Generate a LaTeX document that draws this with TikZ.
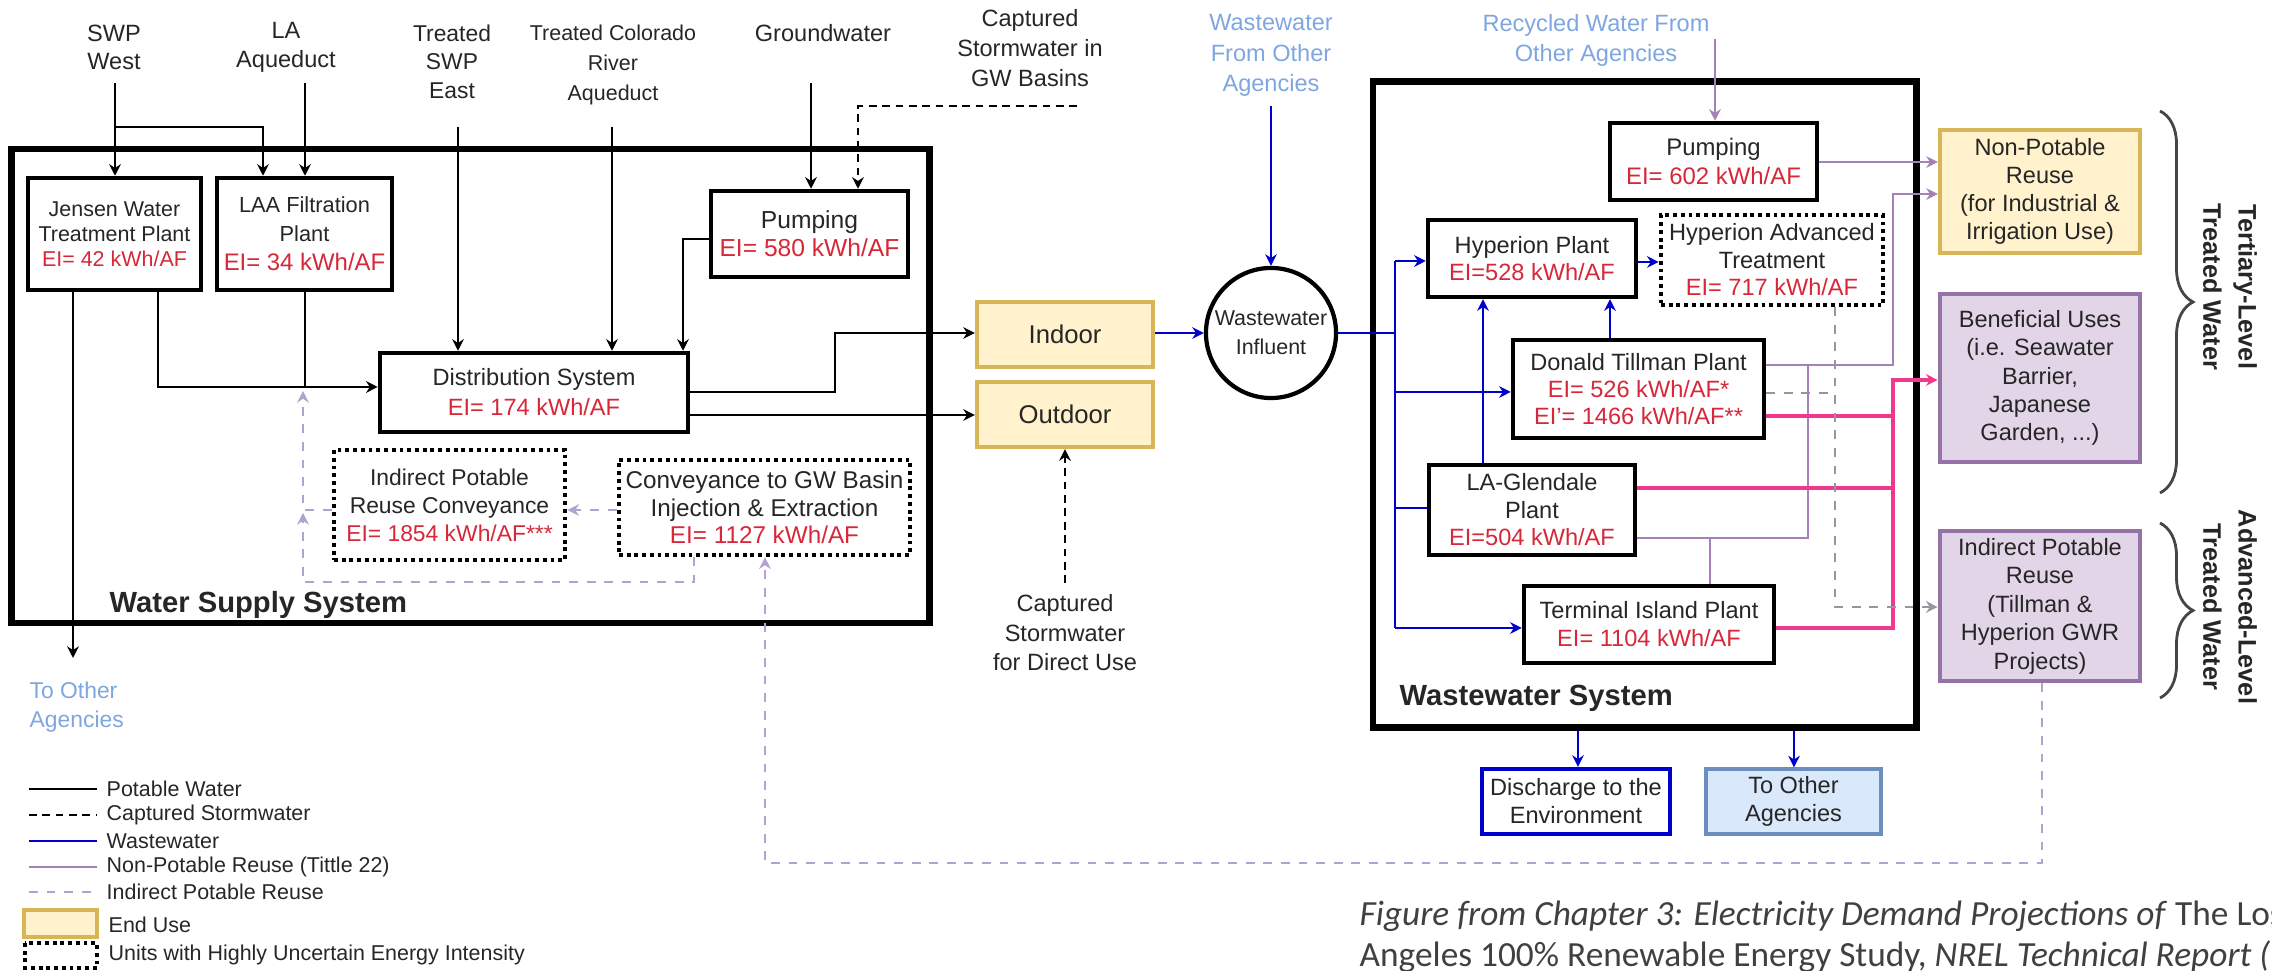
\documentclass[tikz,border=0pt]{standalone}
\usepackage{fontspec}
\setmainfont{Liberation Sans}
\newfontfamily\capfont{Carlito}
\usetikzlibrary{arrows.meta,decorations.pathreplacing}

\definecolor{txt}{RGB}{38,38,38}
\definecolor{eired}{RGB}{214,40,57}
\definecolor{wwblue}{RGB}{0,0,205}
\definecolor{ltblue}{RGB}{126,166,224}
\definecolor{npurple}{RGB}{166,128,184}
\definecolor{ipurple}{RGB}{178,162,208}
\definecolor{ggray}{RGB}{150,150,160}
\definecolor{pinkl}{RGB}{240,56,140}
\definecolor{endfill}{RGB}{255,242,204}
\definecolor{enddraw}{RGB}{214,182,86}
\definecolor{benfill}{RGB}{225,213,231}
\definecolor{bendraw}{RGB}{150,115,166}
\definecolor{toafill}{RGB}{218,232,252}
\definecolor{toadraw}{RGB}{108,142,191}
\definecolor{capgray}{RGB}{64,64,64}
\definecolor{bracegray}{RGB}{70,70,70}

\newcommand{\ei}[1]{\textcolor{eired}{#1}}

\begin{document}
\begin{tikzpicture}[x=0.01cm,y=-0.01cm,
  every node/.style={text=txt},
  lbl/.style={align=center,inner sep=0pt,font=\fontsize{6.7}{8.1}\selectfont},
  box/.style={lbl,draw=black,line width=1.25pt,fill=white},
  ubox/.style={lbl,draw=black,line width=1.3pt,dash pattern=on 1.1pt off 1.1pt,fill=white},
  enduse/.style={lbl,draw=enddraw,fill=endfill,line width=1.2pt},
  reuse/.style={lbl,draw=bendraw,fill=benfill,line width=1.3pt},
  sysbox/.style={draw=black,line width=1.9pt,inner sep=0pt},
  arr/.style={-{Stealth[length=3.3pt,width=3.3pt]}},
  lpot/.style={black,line width=0.75pt},
  lstorm/.style={black,line width=0.75pt,dash pattern=on 2.2pt off 1.6pt},
  lwaste/.style={wwblue,line width=0.8pt},
  lnpr/.style={npurple,line width=0.7pt},
  lpink/.style={pinkl,line width=1pt},
  lipr/.style={ipurple,line width=0.7pt,dash pattern=on 2.5pt off 2.5pt},
  lgray/.style={ggray,line width=0.7pt,dash pattern=on 2.5pt off 2.5pt},
  legtxt/.style={anchor=west,inner sep=0pt,font=\fontsize{6.1}{7}\selectfont},
  sysname/.style={anchor=west,inner sep=0pt,font=\bfseries\fontsize{8.3}{9}\selectfont},
  sidename/.style={align=center,inner sep=0pt,rotate=-90,font=\bfseries\fontsize{7.2}{10}\selectfont},
  bracestyle/.style={bracegray,line width=0.8pt,decorate,decoration={brace,amplitude=0.33cm,aspect=0.5}},
]
\useasboundingbox (0,0) rectangle (2272,971);
\clip (0,0) rectangle (2272,971);

% ---------- system frames ----------
\node[sysbox,minimum width=9.17cm,minimum height=4.74cm] (wss) at (470.5,386) {};
\node[sysbox,minimum width=5.43cm,minimum height=6.45cm] (wws) at (1644.5,404.5) {};
\node[sysname] (wsst) at (109,605) {Water Supply System};
\node[sysname] (wwst) at (1399,698) {Wastewater System};

% ---------- source labels ----------
\node[lbl] (swpw) at (114,47.5) {SWP\\West};
\node[lbl] (laq) at (286,47.5) {LA\\Aqueduct};
\node[lbl,font=\fontsize{6.5}{8.1}\selectfont] (tswp) at (452,61.5) {Treated\\SWP\\East};
\node[lbl,font=\fontsize{6.1}{8.5}\selectfont] (tcra) at (613,65) {Treated Colorado\\River\\Aqueduct};
\node[lbl] (gw) at (823,33) {Groundwater};
\node[lbl,font=\fontsize{6.7}{8.5}\selectfont] (csgw) at (1030,48) {Captured\\Stormwater in\\GW Basins};
\node[lbl,text=ltblue,font=\fontsize{6.7}{8.6}\selectfont] (wwoa) at (1271,55.5) {Wastewater\\From Other\\Agencies};
\node[lbl,text=ltblue,font=\fontsize{6.7}{8.5}\selectfont] (rwoa) at (1596,40) {Recycled Water From\\Other Agencies};
\node[lbl,font=\fontsize{6.7}{8.4}\selectfont] (csdu) at (1065,633) {Captured\\Stormwater\\for Direct Use};
\node[lbl,align=left,anchor=west,text=ltblue,font=\fontsize{6.5}{8.2}\selectfont] (toal) at (29,707.5) {To Other\\Agencies};

% ---------- water supply units ----------
\node[box,minimum width=1.73cm,minimum height=1.12cm,font=\fontsize{6.1}{7.1}\selectfont] (jensen) at (114.5,234)
  {Jensen Water\\Treatment Plant\\\ei{EI= 42 kWh/AF}};
\node[box,minimum width=1.75cm,minimum height=1.12cm,font=\fontsize{6.2}{8.3}\selectfont] (laa) at (304.5,234)
  {LAA Filtration\\Plant\\\ei{\fontsize{6.8}{8.3}\selectfont EI= 34 kWh/AF}};
\node[box,minimum width=1.97cm,minimum height=0.86cm,font=\fontsize{7}{8}\selectfont] (pumpA) at (809.5,234)
  {Pumping\\\ei{EI= 580 kWh/AF}};
\node[box,minimum width=3.08cm,minimum height=0.79cm,font=\fontsize{6.7}{8.5}\selectfont] (dist) at (534,392.5)
  {Distribution System\\\ei{EI= 174 kWh/AF}};
\node[ubox,minimum width=2.31cm,minimum height=1.10cm,font=\fontsize{6.5}{8}\selectfont] (iprc) at (449.5,505)
  {Indirect Potable\\Reuse Conveyance\\\ei{EI= 1854 kWh/AF***}};
\node[ubox,minimum width=2.91cm,minimum height=0.95cm,font=\fontsize{6.9}{7.8}\selectfont] (conv) at (764.5,507.5)
  {Conveyance to GW Basin\\Injection \& Extraction\\\ei{EI= 1127 kWh/AF}};

% ---------- end uses ----------
\node[enduse,minimum width=1.76cm,minimum height=0.65cm,font=\fontsize{7.3}{8}\selectfont] (indoor) at (1065,334.5) {Indoor};
\node[enduse,minimum width=1.76cm,minimum height=0.65cm,font=\fontsize{7.3}{8}\selectfont] (outdoor) at (1065,414.5) {Outdoor};
\node[lbl,circle,draw=black,line width=1.2pt,minimum size=1.30cm,font=\fontsize{6.1}{8.2}\selectfont] (infl) at (1271,333)
  {Wastewater\\Influent};

% ---------- wastewater units ----------
\node[box,minimum width=2.07cm,minimum height=0.77cm,font=\fontsize{6.8}{8.2}\selectfont] (pumpB) at (1713.5,161.5)
  {Pumping\\\ei{EI= 602 kWh/AF}};
\node[box,minimum width=2.08cm,minimum height=0.77cm,font=\fontsize{6.7}{7.6}\selectfont] (hyp) at (1532,258.5)
  {Hyperion Plant\\\ei{EI=528 kWh/AF}};
\node[ubox,minimum width=2.22cm,minimum height=0.90cm,font=\fontsize{6.7}{7.8}\selectfont] (hat) at (1772,260)
  {Hyperion Advanced\\Treatment\\\ei{EI= 717 kWh/AF}};
\node[box,minimum width=2.51cm,minimum height=0.98cm,font=\fontsize{6.7}{7.6}\selectfont] (till) at (1638.5,389)
  {Donald Tillman Plant\\\ei{EI= 526 kWh/AF*}\\\ei{EI'= 1466 kWh/AF**}};
\node[box,minimum width=2.06cm,minimum height=0.90cm,font=\fontsize{6.7}{7.8}\selectfont] (lag) at (1532,510)
  {LA-Glendale\\Plant\\\ei{EI=504 kWh/AF}};
\node[box,minimum width=2.50cm,minimum height=0.77cm,font=\fontsize{6.7}{8}\selectfont] (term) at (1649,624.5)
  {Terminal Island Plant\\\ei{EI= 1104 kWh/AF}};

% ---------- reuse destinations ----------
\node[enduse,minimum width=2.00cm,minimum height=1.23cm,font=\fontsize{6.7}{8}\selectfont] (npr) at (2040,191.5)
  {Non-Potable\\Reuse\\(for Industrial \&\\Irrigation Use)};
\node[reuse,minimum width=2.00cm,minimum height=1.68cm,font=\fontsize{6.7}{8}\selectfont] (ben) at (2040,378)
  {Beneficial Uses\\(i.e. Seawater\\Barrier,\\Japanese\\Garden, ...)};
\node[reuse,minimum width=2.00cm,minimum height=1.50cm,font=\fontsize{6.7}{8.1}\selectfont] (ipr) at (2040,606)
  {Indirect Potable\\Reuse\\(Tillman \&\\Hyperion GWR\\Projects)};
\node[lbl,draw=wwblue,line width=1.2pt,fill=white,minimum width=1.88cm,minimum height=0.65cm,font=\fontsize{6.7}{8}\selectfont] (disch) at (1576,801.5)
  {Discharge to the\\Environment};
\node[lbl,draw=toadraw,fill=toafill,line width=0.9pt,minimum width=1.75cm,minimum height=0.65cm,font=\fontsize{6.7}{8}\selectfont] (toa) at (1793.5,801.5)
  {To Other\\Agencies};

% ---------- treatment level braces ----------
\draw[bracestyle] (2160,111) -- (2160,493);
\draw[bracestyle] (2160,523) -- (2160,698);
\node[sidename] (tert) at (2230,287) {Tertiary-Level\\Treated Water};
\node[sidename] (adv) at (2230,607) {Advanced-Level\\Treated Water};

% ---------- potable water ----------
\coordinate (swpin) at (115,83);
\coordinate (laqin) at (305,83);
\coordinate (tswpin) at (458,127);
\coordinate (tcrain) at (612,127);
\coordinate (gwin) at (811,83);
\coordinate (csgwin) at (1077,106);
\coordinate (toaout) at (73,658);
\coordinate (csduin) at (1065,583);
\draw[lpot,arr] (swpin) -- (swpin |- jensen.north);
\draw[lpot,arr] (115,127) -- (263,127) -- (laa.north -| 263,0);
\draw[lpot,arr] (laqin) -- (laqin |- laa.north);
\draw[lpot,arr] (tswpin) -- (tswpin |- dist.north);
\draw[lpot,arr] (tcrain) -- (tcrain |- dist.north);
\draw[lpot,arr] (gwin) -- (gwin |- pumpA.north);
\draw[lstorm,arr] (csgwin) -- (858,106) -- (pumpA.north -| 858,0);
\draw[lpot,arr] (pumpA.west |- 0,239) -- (683,239) -- (dist.north -| 683,0);
\draw[lpot,arr] (jensen.south -| 158,0) -- (158,387) -- (dist.west |- 0,387);
\draw[lpot] (laa.south -| 305,0) -- (305,387);
\draw[lpot,arr] (jensen.south -| 73,0) -- (toaout);
\draw[lpot,arr] (dist.east |- 0,392) -- (835,392) -- (835,333) -- (indoor.west |- 0,333);
\draw[lpot,arr] (dist.east |- 0,415) -- (outdoor.west |- 0,415);
\draw[lstorm,arr] (csduin) -- (outdoor.south);

% ---------- wastewater ----------
\coordinate (wwoain) at (1271,106);
\draw[lwaste,arr] (indoor.east |- infl.west) -- (infl.west);
\draw[lwaste,arr] (wwoain) -- (infl.north);
\draw[lwaste] (infl.east) -- (1395,333);
\draw[lwaste] (1395,261) -- (1395,628);
\draw[lwaste,arr] (1395,261) -- (hyp.west |- 0,261);
\draw[lwaste,arr] (1395,392) -- (till.west |- 0,392);
\draw[lwaste] (1395,508) -- (lag.west |- 0,508);
\draw[lwaste,arr] (1395,628) -- (term.west |- 0,628);
\draw[lwaste,arr] (lag.north -| 1483,0) -- (hyp.south -| 1483,0);
\draw[lwaste,arr] (till.north -| 1610,0) -- (hyp.south -| 1610,0);
\draw[lwaste,arr] (hyp.east |- 0,262) -- (hat.west |- 0,262);
\draw[lwaste,arr] (wws.south -| 1578,0) -- (disch.north -| 1578,0);
\draw[lwaste,arr] (wws.south -| 1794,0) -- (toa.north -| 1794,0);

% ---------- non-potable reuse ----------
\coordinate (rwoain) at (1715,39);
\draw[lnpr,arr] (rwoain) -- (rwoain |- pumpB.north);
\draw[lnpr,arr] (pumpB.east |- 0,162) -- (npr.west |- 0,162);
\draw[lnpr,arr] (till.east |- 0,365) -- (1893,365) -- (1893,194) -- (npr.west |- 0,194);
\draw[lnpr] (lag.east |- 0,538) -- (1808,538) -- (1808,365);
\draw[lnpr] (term.north -| 1710,0) -- (1710,538);

% ---------- beneficial uses ----------
\draw[lpink] (till.east |- 0,416) -- (1893,416);
\draw[lpink] (lag.east |- 0,488) -- (1893,488);
\draw[lpink,arr] (term.east |- 0,628) -- (1893,628) -- (1893,380) -- (ben.west |- 0,380);

% ---------- indirect potable reuse ----------
\draw[lgray] (till.east |- 0,393) -- (1835,393);
\draw[lgray,arr] (hat.south -| 1835,0) -- (1835,607) -- (ipr.west |- 0,607);
\draw[lipr,arr] (ipr.south -| 2042,0) -- (2042,863) -- (765,863) -- (conv.south -| 765,0);
\draw[lipr,arr] (conv.west |- 0,510) -- (iprc.east |- 0,510);
\draw[lipr,arr] (conv.south -| 694,0) -- (694,582) -- (303,582) -- (303,513);
\draw[lipr,arr] (iprc.west |- 0,510) -- (303,510) -- (303,391);

% ---------- legend ----------
\draw[lpot] (29,789) -- (97,789);
\draw[lstorm] (29,815) -- (97,815);
\draw[lwaste] (29,841) -- (97,841);
\draw[lnpr] (29,867) -- (97,867);
\draw[lipr] (29,892) -- (97,892);
\draw[draw=enddraw,fill=endfill,line width=1.2pt] (24,910) rectangle (97,937);
\draw[black,line width=1.3pt,dash pattern=on 1.1pt off 1.1pt] (25,943) rectangle (97,968);
\node[legtxt] (lg1) at (106,789) {Potable Water};
\node[legtxt] (lg2) at (106,815) {Captured Stormwater};
\node[legtxt] (lg3) at (106,841) {Wastewater};
\node[legtxt] (lg4) at (106,867) {Non-Potable Reuse (Tittle 22)};
\node[legtxt] (lg5) at (106,892) {Indirect Potable Reuse};
\node[legtxt] (lg6) at (108,925) {End Use};
\node[legtxt] (lg7) at (108,955) {Units with Highly Uncertain Energy Intensity};

% ---------- source note ----------
\node[anchor=base west,inner sep=0pt,text=capgray,font=\capfont\fontsize{10.05}{11}\selectfont] (cap1) at (1359,926)
  {\textit{Figure from Chapter 3: Electricity Demand Projections of} The Los};
\node[anchor=base west,inner sep=0pt,text=capgray,font=\capfont\fontsize{10.05}{11}\selectfont] (cap2) at (1359,967)
  {Angeles 100\% Renewable Energy Study, \textit{NREL Technical Report (}};
\end{tikzpicture}
\end{document}
